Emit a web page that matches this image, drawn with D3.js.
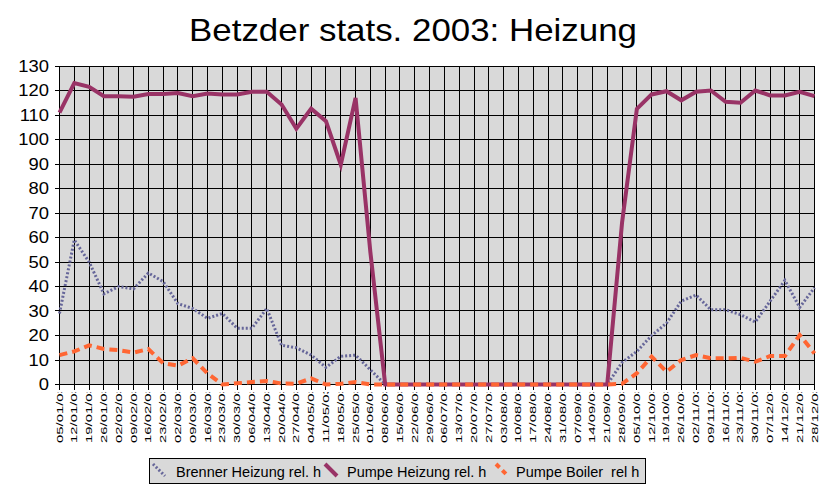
<!DOCTYPE html>
<html>
<head>
<meta charset="utf-8">
<script src="https://cdn.jsdelivr.net/npm/d3@7"></script>
<style>
html,body{margin:0;padding:0;background:#fff;}
svg{display:block;font-family:"Liberation Sans",Arial,sans-serif;}
</style>
</head>
<body>
<svg id="chart" width="831" height="495"></svg>
<script>
const title = "Betzder stats. 2003: Heizung";
const categories = ["05/01/03","12/01/03","19/01/03","26/01/03","02/02/03","09/02/03","16/02/03","23/02/03","02/03/03","09/03/03","16/03/03","23/03/03","30/03/03","06/04/03","13/04/03","20/04/03","27/04/03","04/05/03","11/05/03","18/05/03","25/05/03","01/06/03","08/06/03","15/06/03","22/06/03","29/06/03","06/07/03","13/07/03","20/07/03","27/07/03","03/08/03","10/08/03","17/08/03","24/08/03","31/08/03","07/09/03","14/09/03","21/09/03","28/09/03","05/10/03","12/10/03","19/10/03","26/10/03","02/11/03","09/11/03","16/11/03","23/11/03","30/11/03","07/12/03","14/12/03","21/12/03","28/12/03"];
const brenner = [29,59,50,37,40,39,45.5,42,33,31,27,29,23,23,31,16,15,12,7,11.5,12,6,0,0,0,0,0,0,0,0,0,0,0,0,0,0,0,0,9,13.5,20,25,34,36.5,30.5,30.5,28.5,25.5,34,42.5,31.5,39.5];
const pumpeHeizung = [111,123,121.5,117.7,117.7,117.5,118.6,118.6,119,117.7,118.8,118.4,118.4,119.5,119.5,114.3,104.4,112.6,107.5,89.7,117,54,0,0,0,0,0,0,0,0,0,0,0,0,0,0,0,0,66,112.5,118.4,119.7,116,119.5,120,115.4,115,120,118,118,119.5,117.7];
const pumpeBoiler = [12,13.5,16,14.5,14,13,14.5,8.7,7.7,10.7,4.5,0,0.5,1,1.4,0.4,0.3,2.5,0,0.3,1,0,0,0,0,0,0,0,0,0,0,0,0,0,0,0,0,0,0.3,4.6,11.4,5.2,10,12,10.7,10.7,10.9,9.3,11.6,11.6,20.2,12.7];
const yTicks = [0,10,20,30,40,50,60,70,80,90,100,110,120,130];
const seriesNames = ["Brenner Heizung rel. h","Pumpe Heizung rel. h","Pumpe Boiler  rel h"];

const series = [
  {name: seriesNames[0], values: brenner, color: "#666699", width: 3, dash: "2,2"},
  {name: seriesNames[1], values: pumpeHeizung, color: "#993366", width: 4, dash: null},
  {name: seriesNames[2], values: pumpeBoiler, color: "#ff6633", width: 4, dash: "8,5"}
];

const L = 59.5, R = 814.5, T = 66, B = 384.5;
const svg = d3.select("#chart");
const x = d3.scalePoint().domain(categories).range([L, R]);
const y = d3.scaleLinear().domain([0,130]).range([B, T]);
const px = v => Math.round(v - 0.5) + 0.5;

// title
svg.append("text")
  .attr("transform", "translate(413,41) scale(1.09,1)")
  .attr("text-anchor", "middle")
  .attr("font-size", 32)
  .attr("fill", "#000")
  .text(title);

// plot background
svg.append("rect").attr("x", L).attr("y", px(y(130))).attr("width", R - L).attr("height", px(y(0)) - px(y(130)))
  .attr("fill", "#d9d9d9");

// grid
const g = svg.append("g").attr("stroke", "#000").attr("stroke-width", 1).attr("shape-rendering", "crispEdges");
yTicks.forEach(t => {
  g.append("line").attr("x1", L - 5).attr("x2", R).attr("y1", px(y(t))).attr("y2", px(y(t)));
});
categories.forEach(c => {
  g.append("line").attr("x1", px(x(c))).attr("x2", px(x(c))).attr("y1", px(y(130))).attr("y2", px(y(0)) + 5);
});

// y labels
svg.append("g").selectAll("text").data(yTicks).join("text")
  .attr("transform", d => `translate(49,${y(d)}) scale(1.15,1)`)
  .attr("text-anchor", "end")
  .attr("dy", "0.36em")
  .attr("font-size", 16)
  .attr("fill", "#000")
  .text(d => d);

// x labels, clipped at top like the original
svg.append("clipPath").attr("id", "xclip").append("rect")
  .attr("x", 0).attr("y", 392).attr("width", 831).attr("height", 60);
svg.append("g").attr("clip-path", "url(#xclip)").selectAll("text").data(categories).join("text")
  .attr("transform", d => `translate(${x(d) + 3},443) rotate(-90) scale(1.6,1)`)
  .attr("text-anchor", "start")
  .attr("font-size", 9.3)
  .attr("fill", "#000")
  .text(d => d);

// lines
const line = d3.line().x((d, i) => x(categories[i])).y(d => y(d));
series.forEach(s => {
  svg.append("path")
    .attr("d", line(s.values))
    .attr("fill", "none")
    .attr("stroke", s.color)
    .attr("stroke-width", s.width)
    .attr("stroke-dasharray", s.dash)
    .attr("stroke-linejoin", "miter");
});

// legend
const leg = svg.append("g");
leg.append("rect").attr("x", 149.5).attr("y", 458.5).attr("width", 496).attr("height", 25)
  .attr("fill", "#d9d9d9").attr("stroke", "#000").attr("stroke-width", 1);
const legX = [153, 325, 496];
const textX = [176, 347, 516];
series.forEach((s, i) => {
  leg.append("line").attr("x1", legX[i]).attr("y1", 464).attr("x2", legX[i] + 12).attr("y2", 476)
    .attr("stroke", s.color).attr("stroke-width", s.width).attr("stroke-dasharray", s.dash ? (i === 2 ? "5,4" : "2,2") : null);
  leg.append("text").attr("x", textX[i]).attr("y", 477).attr("font-size", 14.5).attr("fill", "#000")
    .style("white-space", "pre").text(s.name);
});
</script>
</body>
</html>
